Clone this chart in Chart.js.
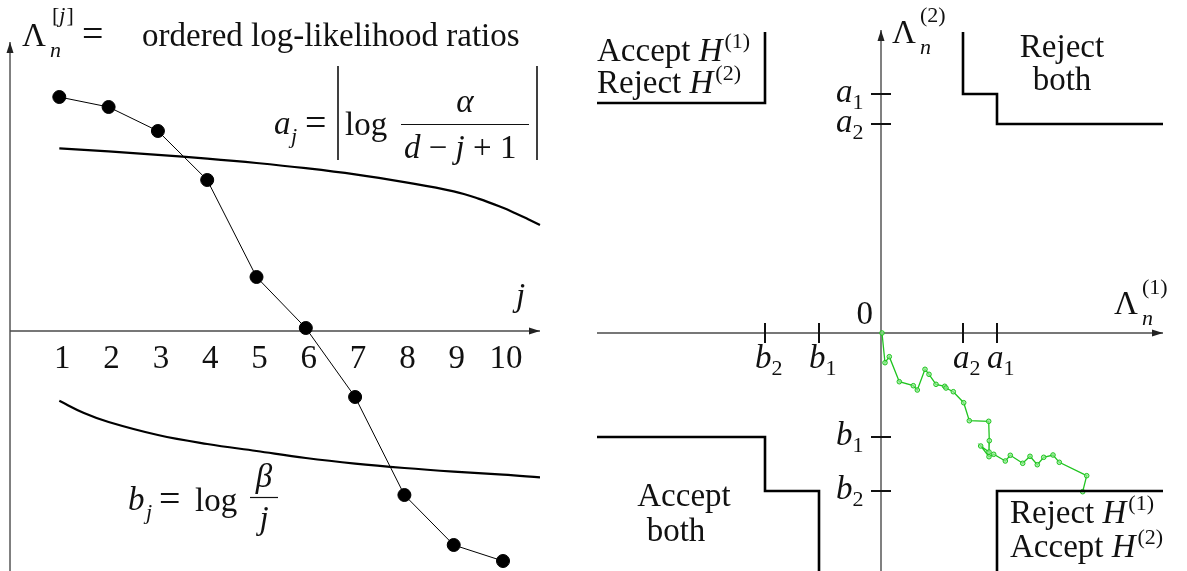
<!DOCTYPE html>
<html>
<head>
<meta charset="utf-8">
<script src="https://cdn.jsdelivr.net/npm/chart.js@4.4.0/dist/chart.umd.min.js"></script>
<style>
  body { margin: 0; background: #fff; }
  #wrap { position: relative; width: 1187px; height: 571px; }
  canvas { position: absolute; top: 0; }
  #leftChart { left: 0; }
  #rightChart { left: 580px; }
</style>
</head>
<body>
<div id="wrap">
  <canvas id="leftChart" width="560" height="571"></canvas>
  <canvas id="rightChart" width="607" height="571"></canvas>
</div>
<script>
// ---- left panel: ordered log-likelihood ratios against the two boundaries
const jValues = [1, 2, 3, 4, 5, 6, 7, 8, 9, 10];
const ratioValues = [11.7, 11.2, 10.0, 7.55, 2.7, 0.15, -3.3, -8.2, -10.7, -11.5];
const aCurveJ = [1, 2, 3, 4, 5, 6, 7, 8, 9, 9.5, 10, 10.25, 10.5, 10.75];
const aCurve = [9.13, 8.98, 8.81, 8.62, 8.4, 8.14, 7.83, 7.44, 6.98, 6.62, 6.16, 5.89, 5.6, 5.3];
const bCurveJ = [1, 1.5, 2, 3, 4, 5, 6, 7, 8, 9, 10, 10.75];
const bCurve = [-3.49, -4.1, -4.55, -5.2, -5.65, -6.0, -6.35, -6.63, -6.85, -7.03, -7.18, -7.32];
const tickLabels = ['1', '2', '3', '4', '5', '6', '7', '8', '9', '10'];

// ---- right panel: sequential path in the (Λ(1), Λ(2)) plane
const xTickNames = ['b', 'b', 'a', 'a'];
const xTickSubs = ['2', '1', '2', '1'];
const xTickValues = [-11.6, -6.2, 8.2, 11.6];
const yTickNames = ['a', 'a', 'b', 'b'];
const yTickSubs = ['1', '2', '1', '2'];
const yTickValues = [23.9, 20.9, -10.4, -15.8];
const h2Cut = 23.0;
const pathX = [0.1, 0.4, 0.83, 1.83, 3.23, 3.63, 4.4, 4.8, 5.5, 6.37, 6.5, 7.23, 8.27, 8.83,
  10.77, 10.83, 10.8, 9.97, 10.8, 11.27, 12.43, 12.93, 14.17, 14.9, 15.63, 16.27, 17.2, 17.83, 20.57, 20.17];
const pathY = [0, -2.97, -2.37, -4.87, -5.27, -5.7, -3.63, -4.13, -5.13, -5.33, -5.5, -5.87, -6.97, -8.77,
  -8.83, -10.77, -11.9, -11.3, -12.37, -12.13, -12.8, -12.23, -13.03, -12.33, -13.17, -12.43, -12.2, -12.93, -14.27, -15.87];

const FONT = '"Liberation Serif", "Times New Roman", serif';
const BIG = 33, SMALL = 22;
const xy = (xs, ys) => xs.map((v, i) => ({ x: v, y: ys[i] }));

function put(ctx, str, x, y, size, italic, align) {
  ctx.font = (italic ? 'italic ' : '') + size + 'px ' + FONT;
  ctx.textAlign = align || 'left';
  ctx.fillText(str, x, y);
  return x + ctx.measureText(str).width;
}

function arrowLine(ctx, x1, y1, x2, y2) {
  ctx.beginPath(); ctx.moveTo(x1, y1); ctx.lineTo(x2, y2); ctx.stroke();
  const a = Math.atan2(y2 - y1, x2 - x1), L = 11, W = 3.5;
  ctx.beginPath();
  ctx.moveTo(x2, y2);
  ctx.lineTo(x2 - L * Math.cos(a) + W * Math.sin(a), y2 - L * Math.sin(a) - W * Math.cos(a));
  ctx.lineTo(x2 - L * Math.cos(a) - W * Math.sin(a), y2 - L * Math.sin(a) + W * Math.cos(a));
  ctx.closePath(); ctx.fill();
}

// H with a parenthesised superscript, e.g. H^(1)
function hyp(ctx, x, y, n) {
  const e = put(ctx, 'H', x, y, BIG, true);
  put(ctx, '(' + n + ')', e + 2, y - 13, SMALL, false);
}

const leftDecor = {
  id: 'leftDecor',
  beforeDatasetsDraw(chart) {
    const { ctx, scales: { x, y } } = chart;
    const x0 = x.getPixelForValue(0), y0 = y.getPixelForValue(0);
    ctx.save();
    ctx.strokeStyle = '#4a4a4a'; ctx.fillStyle = '#222'; ctx.lineWidth = 1.4;
    arrowLine(ctx, x0, chart.height, x0, y.getPixelForValue(14.45));
    arrowLine(ctx, x0, y0, x.getPixelForValue(10.75), y0);
    ctx.restore();
  },
  afterDatasetsDraw(chart) {
    const { ctx, scales: { x, y } } = chart;
    const y0 = y.getPixelForValue(0);
    ctx.save();
    ctx.fillStyle = '#111';
    ctx.textBaseline = 'alphabetic';
    tickLabels.forEach((t, i) => put(ctx, t, x.getPixelForValue(jValues[i]) + 3, y0 + 37, BIG, false, 'center'));

    // heading
    put(ctx, 'Λ', 22, 46, BIG, false);
    put(ctx, 'n', 50, 57, SMALL, true);
    let e = put(ctx, '[', 52, 22, SMALL, false);
    e = put(ctx, 'j', e, 22, SMALL, true);
    put(ctx, ']', e + 1, 22, SMALL, false);
    put(ctx, '=', 82, 46, 38, false);
    put(ctx, 'ordered log-likelihood ratios', 142, 46, BIG, false);

    // a_j = |log alpha / (d - j + 1)|
    put(ctx, 'a', 274, 134, BIG, true);
    put(ctx, 'j', 291, 143, SMALL, true);
    put(ctx, '=', 305, 135, 38, false);
    ctx.strokeStyle = '#111'; ctx.lineWidth = 1.6;
    ctx.beginPath();
    ctx.moveTo(338, 66); ctx.lineTo(338, 160);
    ctx.moveTo(537, 66); ctx.lineTo(537, 160);
    ctx.stroke();
    put(ctx, 'log', 345, 135, BIG, false);
    ctx.lineWidth = 1.2;
    ctx.beginPath(); ctx.moveTo(401, 124.5); ctx.lineTo(529, 124.5); ctx.stroke();
    put(ctx, 'α', 465, 112, BIG, true, 'center');
    let d = put(ctx, 'd', 404, 158, BIG, true);
    d = put(ctx, ' − ', d, 158, BIG, false);
    d = put(ctx, 'j', d, 158, BIG, true);
    put(ctx, ' + 1', d, 158, BIG, false);

    put(ctx, 'j', 516, 306, BIG, true);

    // b_j = log beta / j
    put(ctx, 'b', 128, 510, BIG, true);
    put(ctx, 'j', 146, 519, SMALL, true);
    put(ctx, '=', 159, 511, 38, false);
    put(ctx, 'log', 195, 511, BIG, false);
    ctx.lineWidth = 1.2;
    ctx.beginPath(); ctx.moveTo(250, 497.5); ctx.lineTo(278, 497.5); ctx.stroke();
    put(ctx, 'β', 264, 487, BIG, true, 'center');
    put(ctx, 'j', 264, 529, BIG, true, 'center');
    ctx.restore();
  }
};

new Chart(document.getElementById('leftChart'), {
  type: 'scatter',
  data: {
    datasets: [
      { data: xy(aCurveJ, aCurve), showLine: true, borderColor: '#000', borderWidth: 2.2,
        pointRadius: 0, tension: 0.4, clip: false },
      { data: xy(bCurveJ, bCurve), showLine: true, borderColor: '#000', borderWidth: 2.2,
        pointRadius: 0, tension: 0.4, clip: false },
      { data: xy(jValues, ratioValues), showLine: true, borderColor: '#000', borderWidth: 1,
        pointRadius: 6.5, pointBackgroundColor: '#000', pointBorderColor: '#000', clip: false }
    ]
  },
  options: {
    responsive: false,
    animation: false,
    layout: { padding: 0, autoPadding: false },
    plugins: { legend: { display: false }, tooltip: { enabled: false } },
    scales: {
      x: { type: 'linear', display: false, min: -0.203, max: 11.156 },
      y: { type: 'linear', display: false, min: -12.0, max: 16.55 }
    }
  },
  plugins: [leftDecor]
});

// ---- right panel
const X_LEFT = -28.4, X_RIGHT = 28.2, Y_TOP = 30.1, Y_BOTTOM = -23.8;
const [b2x, b1x, a2x, a1x] = xTickValues;
const [a1y, a2y, b1y, b2y] = yTickValues;
const boundaries = [
  [[a2x, Y_TOP], [a2x, a1y], [a1x, a1y], [a1x, a2y], [X_RIGHT, a2y]],
  [[X_LEFT, h2Cut], [b2x, h2Cut], [b2x, Y_TOP]],
  [[X_LEFT, b1y], [b2x, b1y], [b2x, b2y], [b1x, b2y], [b1x, Y_BOTTOM]],
  [[a1x, Y_BOTTOM], [a1x, b2y], [X_RIGHT, b2y]]
];

const rightDecor = {
  id: 'rightDecor',
  beforeDatasetsDraw(chart) {
    const { ctx, scales: { x, y } } = chart;
    const x0 = x.getPixelForValue(0), y0 = y.getPixelForValue(0);
    ctx.save();
    ctx.strokeStyle = '#4a4a4a'; ctx.fillStyle = '#222'; ctx.lineWidth = 1.4;
    arrowLine(ctx, x0, chart.height, x0, y.getPixelForValue(Y_TOP + 0.2));
    arrowLine(ctx, x.getPixelForValue(X_LEFT), y0, x.getPixelForValue(X_RIGHT), y0);
    // threshold ticks
    ctx.strokeStyle = '#111'; ctx.lineWidth = 2;
    ctx.beginPath();
    xTickValues.forEach(v => { const p = x.getPixelForValue(v); ctx.moveTo(p, y0 - 10); ctx.lineTo(p, y0 + 10); });
    yTickValues.forEach(v => { const p = y.getPixelForValue(v); ctx.moveTo(x0 - 10, p); ctx.lineTo(x0 + 10, p); });
    ctx.stroke();
    ctx.restore();
  },
  afterDatasetsDraw(chart) {
    const { ctx, scales: { x, y } } = chart;
    const x0 = x.getPixelForValue(0), y0 = y.getPixelForValue(0);
    ctx.save();
    ctx.fillStyle = '#111';
    xTickValues.forEach((v, i) => {
      const p = x.getPixelForValue(v);
      const e = put(ctx, xTickNames[i], p - 10, y0 + 35, BIG, true);
      put(ctx, xTickSubs[i], e, y0 + 42, SMALL, false);
    });
    yTickValues.forEach((v, i) => {
      const p = y.getPixelForValue(v);
      const e = put(ctx, yTickNames[i], x0 - 45, p + 8, BIG, true);
      put(ctx, yTickSubs[i], e, p + 15, SMALL, false);
    });
    put(ctx, '0', x0 - 8, y0 - 9, BIG, false, 'right');

    // axis names
    put(ctx, 'Λ', x0 + 11, 43, BIG, false);
    put(ctx, 'n', x0 + 39, 54, SMALL, true);
    put(ctx, '(2)', x0 + 39, 22, SMALL, false);
    put(ctx, 'Λ', 534, 314, BIG, false);
    put(ctx, 'n', 562, 325, SMALL, true);
    put(ctx, '(1)', 562, 294, SMALL, false);

    // region names
    let e = put(ctx, 'Accept ', 17, 61, BIG, false); hyp(ctx, e, 61, 1);
    e = put(ctx, 'Reject ', 17, 93, BIG, false); hyp(ctx, e, 93, 2);
    put(ctx, 'Reject', 482, 57, BIG, false, 'center');
    put(ctx, 'both', 482, 90, BIG, false, 'center');
    put(ctx, 'Accept', 104, 506, BIG, false, 'center');
    put(ctx, 'both', 96, 541, BIG, false, 'center');
    e = put(ctx, 'Reject ', 430, 523, BIG, false); hyp(ctx, e, 523, 1);
    e = put(ctx, 'Accept ', 430, 557, BIG, false); hyp(ctx, e, 557, 2);
    ctx.restore();
  }
};

const boundarySets = boundaries.map(b => ({
  data: b.map(p => ({ x: p[0], y: p[1] })), showLine: true, borderColor: '#000',
  borderWidth: 2.6, pointRadius: 0, tension: 0, clip: false
}));

new Chart(document.getElementById('rightChart'), {
  type: 'scatter',
  data: {
    datasets: [
      ...boundarySets,
      { data: xy(pathX, pathY), showLine: true, borderColor: '#1fc41f', borderWidth: 1.3,
        pointRadius: 2.3, pointBorderWidth: 1, pointBorderColor: '#1fc41f',
        pointBackgroundColor: 'rgba(150,235,150,0.7)', clip: false }
    ]
  },
  options: {
    responsive: false,
    animation: false,
    layout: { padding: 0, autoPadding: false },
    plugins: { legend: { display: false }, tooltip: { enabled: false } },
    scales: {
      x: { type: 'linear', display: false, min: -30.1, max: 30.6 },
      y: { type: 'linear', display: false, min: -23.8, max: 33.3 }
    }
  },
  plugins: [rightDecor]
});
</script>
</body>
</html>
